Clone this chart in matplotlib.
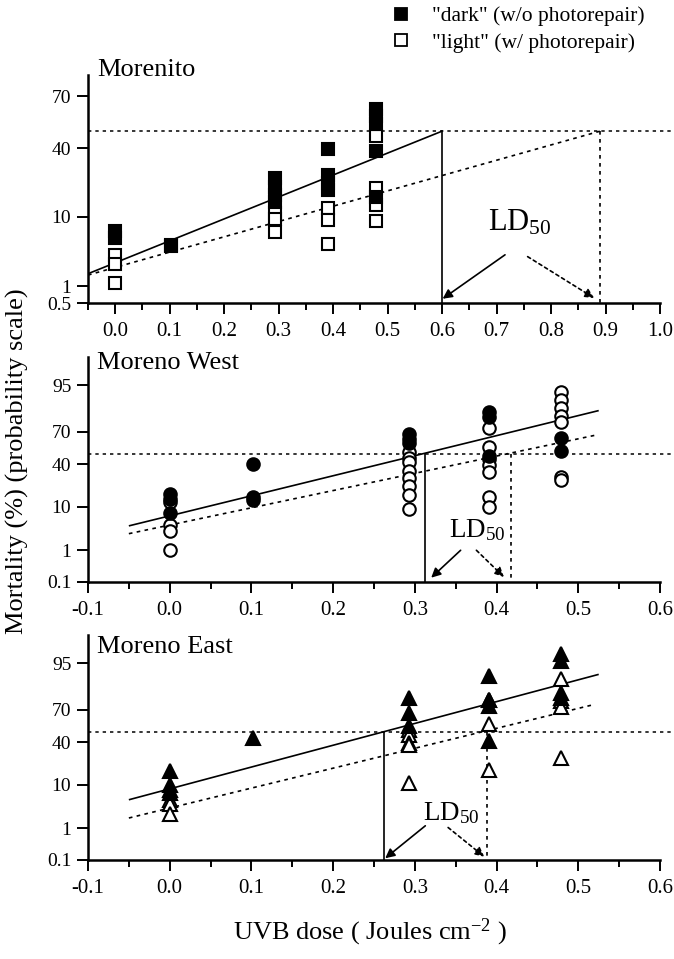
import math
import numpy as np
import matplotlib
matplotlib.use("Agg")
import matplotlib.pyplot as plt
from matplotlib.lines import Line2D
from matplotlib.ticker import FixedLocator, NullLocator, MultipleLocator, FormatStrFormatter

plt.rcParams['font.family'] = ['Liberation Serif', 'DejaVu Serif']
plt.rcParams['mathtext.fontset'] = 'custom'
plt.rcParams['mathtext.rm'] = 'Liberation Serif'
plt.rcParams['mathtext.it'] = 'Liberation Serif:italic'
plt.rcParams['mathtext.bf'] = 'Liberation Serif:bold'
plt.rcParams['axes.unicode_minus'] = False

# ---------------- data ----------------
# Morenito (squares)
mor_dark_x = [0.0, 0.0, 0.102, 0.293, 0.293, 0.293, 0.293, 0.391, 0.391, 0.391, 0.391,
              0.479, 0.479, 0.479, 0.479, 0.479]
mor_dark_y = [6.8, 5.5, 4.4, 23.9, 20.2, 16.9, 14.5, 39.7, 25.5, 21.7, 18.8,
              63.0, 59.0, 54.0, 38.3, 16.2]
mor_light_x = [0.0, 0.0, 0.0, 0.102, 0.293, 0.293, 0.293, 0.391, 0.391, 0.391,
               0.479, 0.479, 0.479, 0.479]
mor_light_y = [3.2, 2.3, 1.14, 4.3, 10.9, 9.3, 6.6, 12.4, 9.2, 4.5,
               47.4, 19.9, 13.4, 8.9]
mor_fit_dark_x = [-0.05, 0.60]
mor_fit_dark_y = [1.63, 50.0]
mor_fit_light_x = [-0.05, 0.89]
mor_fit_light_y = [1.55, 50.0]
mor_ld50 = [0.60, 0.89]

# Moreno West (circles)
mw_dark_x = [0.0, 0.0, 0.0, 0.102, 0.102, 0.102, 0.293, 0.293, 0.293,
             0.391, 0.391, 0.391, 0.479, 0.479]
mw_dark_y = [16.4, 14.0, 7.6, 40.0, 14.9, 13.1, 68.0, 64.0, 60.0,
             84.0, 81.0, 48.0, 65.0, 53.0]
mw_light_x = [0.0, 0.0, 0.0, 0.0,
              0.293, 0.293, 0.293, 0.293, 0.293, 0.293, 0.293, 0.293,
              0.391, 0.391, 0.391, 0.391, 0.391, 0.391, 0.391,
              0.479, 0.479, 0.479, 0.479, 0.479, 0.479, 0.479]
mw_light_y = [12.2, 4.4, 3.1, 1.04,
              52.0, 46.0, 42.0, 34.0, 28.0, 22.0, 16.0, 9.0,
              73.0, 56.0, 45.0, 39.0, 33.0, 15.0, 10.0,
              93.0, 90.0, 86.6, 82.0, 77.6, 28.7, 26.6]
mw_fit_dark_x = [-0.05, 0.525]
mw_fit_dark_y = [4.1, 85.0]
mw_fit_light_x = [-0.05, 0.52]
mw_fit_light_y = [2.7, 67.0]
mw_ld50 = [0.312, 0.418]

# Moreno East (triangles)
me_dark_x = [0.0, 0.0, 0.0, 0.0, 0.102, 0.293, 0.293, 0.293,
             0.391, 0.391, 0.391, 0.391, 0.479, 0.479, 0.479, 0.479]
me_dark_y = [16.9, 10.0, 8.1, 7.0, 44.0, 79.0, 67.5, 55.0,
             91.0, 78.0, 73.0, 41.0, 97.0, 95.5, 82.6, 79.0]
me_light_x = [0.0, 0.0, 0.0, 0.293, 0.293, 0.293, 0.293, 0.293,
              0.391, 0.391, 0.391, 0.479, 0.479, 0.479, 0.479]
me_light_y = [5.0, 4.0, 2.4, 52.0, 47.0, 39.0, 37.0, 10.8,
              78.0, 57.0, 18.0, 89.6, 77.0, 72.6, 26.3]
me_fit_dark_x = [-0.05, 0.525]
me_fit_dark_y = [5.05, 91.6]
me_fit_light_x = [-0.05, 0.52]
me_fit_light_y = [1.88, 74.4]
me_ld50 = [0.262, 0.388]

titles = ["Morenito", "Moreno West", "Moreno East"]
top_yticks = [0.5, 1, 10, 40, 70]
top_yticklabels = ["0.5", "1", "10", "40", "70"]
low_yticks = [0.1, 1, 10, 40, 70, 95]
low_yticklabels = ["0.1", "1", "10", "40", "70", "95"]
legend_labels = ['"dark" (w/o photorepair)', '"light" (w/ photorepair)']

# ------------- probit scale -------------
_a = [-3.969683028665376e+01, 2.209460984245205e+02, -2.759285104469687e+02,
      1.383577518672690e+02, -3.066479806614716e+01, 2.506628277459239e+00]
_b = [-5.447609879822406e+01, 1.615858368580409e+02, -1.556989798598866e+02,
      6.680131188771972e+01, -1.328068155833025e+01]
_c = [-7.784894002430293e-03, -3.223964580411365e-01, -2.400758277161838e+00,
      -2.549732539343734e+00, 4.374664141464968e+00, 2.938163982698783e+00]
_d = [7.784695709041462e-03, 3.224671290700398e-01, 2.445134137142996e+00,
      3.754408661907416e+00]


def _ppf(p):
    p = np.asarray(p, dtype=float)
    shape = p.shape
    p = np.clip(np.atleast_1d(p).ravel(), 1e-12, 1 - 1e-12)
    out = np.empty_like(p)
    plow = 0.02425
    lo = p < plow
    hi = p > 1 - plow
    mid = ~(lo | hi)
    q = np.sqrt(-2 * np.log(p[lo]))
    out[lo] = (((((_c[0]*q+_c[1])*q+_c[2])*q+_c[3])*q+_c[4])*q+_c[5]) / \
              ((((_d[0]*q+_d[1])*q+_d[2])*q+_d[3])*q+1)
    q = np.sqrt(-2 * np.log(1 - p[hi]))
    out[hi] = -(((((_c[0]*q+_c[1])*q+_c[2])*q+_c[3])*q+_c[4])*q+_c[5]) / \
               ((((_d[0]*q+_d[1])*q+_d[2])*q+_d[3])*q+1)
    q = p[mid] - 0.5
    r = q * q
    out[mid] = (((((_a[0]*r+_a[1])*r+_a[2])*r+_a[3])*r+_a[4])*r+_a[5])*q / \
               (((((_b[0]*r+_b[1])*r+_b[2])*r+_b[3])*r+_b[4])*r+1)
    return out.reshape(shape)


_erf = np.vectorize(math.erf, otypes=[float])


def fwd(pct):
    return _ppf(np.asarray(pct, dtype=float) / 100.0)


def inv(z):
    return 100.0 * 0.5 * (1.0 + _erf(np.asarray(z, dtype=float) / math.sqrt(2.0)))


# ------------- figure -------------
W, H = 674, 959
fig = plt.figure(figsize=(W / 100, H / 100), dpi=100)

ax_left, ax_right = 88, 660
boxes = [(75, 303), (357, 582), (635, 860)]
axes = []
for (t, b) in boxes:
    axes.append(fig.add_axes([ax_left / W, 1 - b / H, (ax_right - ax_left) / W, (b - t) / H]))

panels = [
    dict(dark=(mor_dark_x, mor_dark_y), light=(mor_light_x, mor_light_y),
         fd=(mor_fit_dark_x, mor_fit_dark_y), fl=(mor_fit_light_x, mor_fit_light_y),
         ld=mor_ld50, marker='s', ms=8, xlim=(-0.05, 1.0), ylim=(0.5, 80),
         yt=top_yticks, ytl=top_yticklabels, xticks=np.arange(0, 1.01, 0.1),
         title_y=1.022, ldtxt=(0.684, 6.9, 22),
         arr_solid=((0.7155, 3.19), (0.601, 0.60)), arr_dot=((0.757, 3.0), (0.879, 0.62))),
    dict(dark=(mw_dark_x, mw_dark_y), light=(mw_light_x, mw_light_y),
         fd=(mw_fit_dark_x, mw_fit_dark_y), fl=(mw_fit_light_x, mw_fit_light_y),
         ld=mw_ld50, marker='o', ms=9, xlim=(-0.1, 0.6), ylim=(0.1, 99),
         yt=low_yticks, ytl=low_yticklabels, xticks=np.arange(-0.1, 0.61, 0.1),
         title_y=0.975, ldtxt=(0.3417, 2.24, 19.5),
         arr_solid=((0.356, 1.0), (0.320, 0.141)), arr_dot=((0.3753, 1.0), (0.409, 0.149))),
    dict(dark=(me_dark_x, me_dark_y), light=(me_light_x, me_light_y),
         fd=(me_fit_dark_x, me_fit_dark_y), fl=(me_fit_light_x, me_fit_light_y),
         ld=me_ld50, marker='^', ms=10.5, xlim=(-0.1, 0.6), ylim=(0.1, 99),
         yt=low_yticks, ytl=low_yticklabels, xticks=np.arange(-0.1, 0.61, 0.1),
         title_y=0.947, ldtxt=(0.3104, 1.69, 19.5),
         arr_solid=((0.3128, 1.17), (0.2637, 0.115)), arr_dot=((0.3407, 1.05), (0.385, 0.13))),
]

dotted = (0, (2.2, 2.6))
for i, (ax, p, title) in enumerate(zip(axes, panels, titles)):
    ax.set_yscale('function', functions=(fwd, inv))
    ax.set_xlim(*p['xlim'])
    ax.set_ylim(*p['ylim'])
    for s in ('top', 'right'):
        ax.spines[s].set_visible(False)
    for s in ('left', 'bottom'):
        ax.spines[s].set_linewidth(1.8)
    ax.yaxis.set_major_locator(FixedLocator(p['yt']))
    ax.set_yticklabels(p['ytl'])
    ax.yaxis.set_minor_locator(NullLocator())
    ax.set_xticks(p['xticks'])
    ax.xaxis.set_major_formatter(FormatStrFormatter('%.1f'))
    ax.xaxis.set_minor_locator(MultipleLocator(0.05))
    ax.tick_params(axis='both', which='major', direction='out', length=8, width=1.4,
                   labelsize=15, pad=4)
    ax.tick_params(axis='y', which='major', labelsize=14)
    ax.tick_params(axis='x', which='major', pad=6)
    ax.tick_params(axis='x', which='minor', direction='out', length=5, width=1.4)

    # 50% reference line
    ax.axhline(50, xmin=0, xmax=(W - ax_left) / (ax_right - ax_left), color='k',
               lw=1.1, ls=dotted, clip_on=False)
    # fit lines
    ax.plot(p['fd'][0], p['fd'][1], color='k', lw=1.2, solid_capstyle='butt')
    ax.plot(p['fl'][0], p['fl'][1], color='k', lw=1.2, ls=dotted)
    # LD50 drop lines
    ymin = p['ylim'][0]
    ax.plot([p['ld'][0], p['ld'][0]], [50, ymin], color='k', lw=1.2, clip_on=False)
    ax.plot([p['ld'][1], p['ld'][1]], [50, ymin], color='k', lw=1.2, ls=dotted, clip_on=False)

    # markers
    ax.plot(p['light'][0], p['light'][1], ls='none', marker=p['marker'], ms=p['ms'],
            mfc='white', mec='k', mew=1.5, clip_on=False, zorder=3)
    ax.plot(p['dark'][0], p['dark'][1], ls='none', marker=p['marker'], ms=p['ms'],
            mfc='k', mec='k', mew=1.5, clip_on=False, zorder=4)

    # LD50 label & arrows
    tx, ty, tfs = p['ldtxt']
    ax.text(tx, ty, 'LD$_{50}$', fontsize=tfs, ha='left', va='baseline')
    (s0, s1) = p['arr_solid']
    ax.annotate('', xy=s1, xytext=s0,
                arrowprops=dict(arrowstyle='-|>', color='k', lw=1.2, mutation_scale=14,
                                shrinkA=0, shrinkB=0))
    (d0, d1) = p['arr_dot']
    ax.annotate('', xy=d1, xytext=d0,
                arrowprops=dict(arrowstyle='-|>', color='k', lw=1.2, mutation_scale=14,
                                shrinkA=0, shrinkB=0, linestyle=(0, (2, 2))))

    ax.text(0.016, p['title_y'], title, transform=ax.transAxes, fontsize=19,
            ha='left', va='center', clip_on=False)

# legend
handles = [Line2D([], [], ls='none', marker='s', ms=8, mfc='k', mec='k', mew=1.3),
           Line2D([], [], ls='none', marker='s', ms=8, mfc='white', mec='k', mew=1.3)]
fig.legend(handles, legend_labels, loc='upper left', bbox_to_anchor=(390 / W, 1 - 6 / H),
           frameon=False, fontsize=15.5, handlelength=1.0, handletextpad=0.95,
           labelspacing=0.3, borderpad=0, borderaxespad=0)

fig.text(17 / W, 1 - 461 / H, 'Mortality (%) (probability scale)', rotation=90,
         fontsize=19, ha='center', va='center')
fig.text(370 / W, 1 - 932 / H, 'UVB dose ( Joules cm$^{-2}$ )', fontsize=19,
         ha='center', va='center')

fig.savefig('out.png', dpi=100)
